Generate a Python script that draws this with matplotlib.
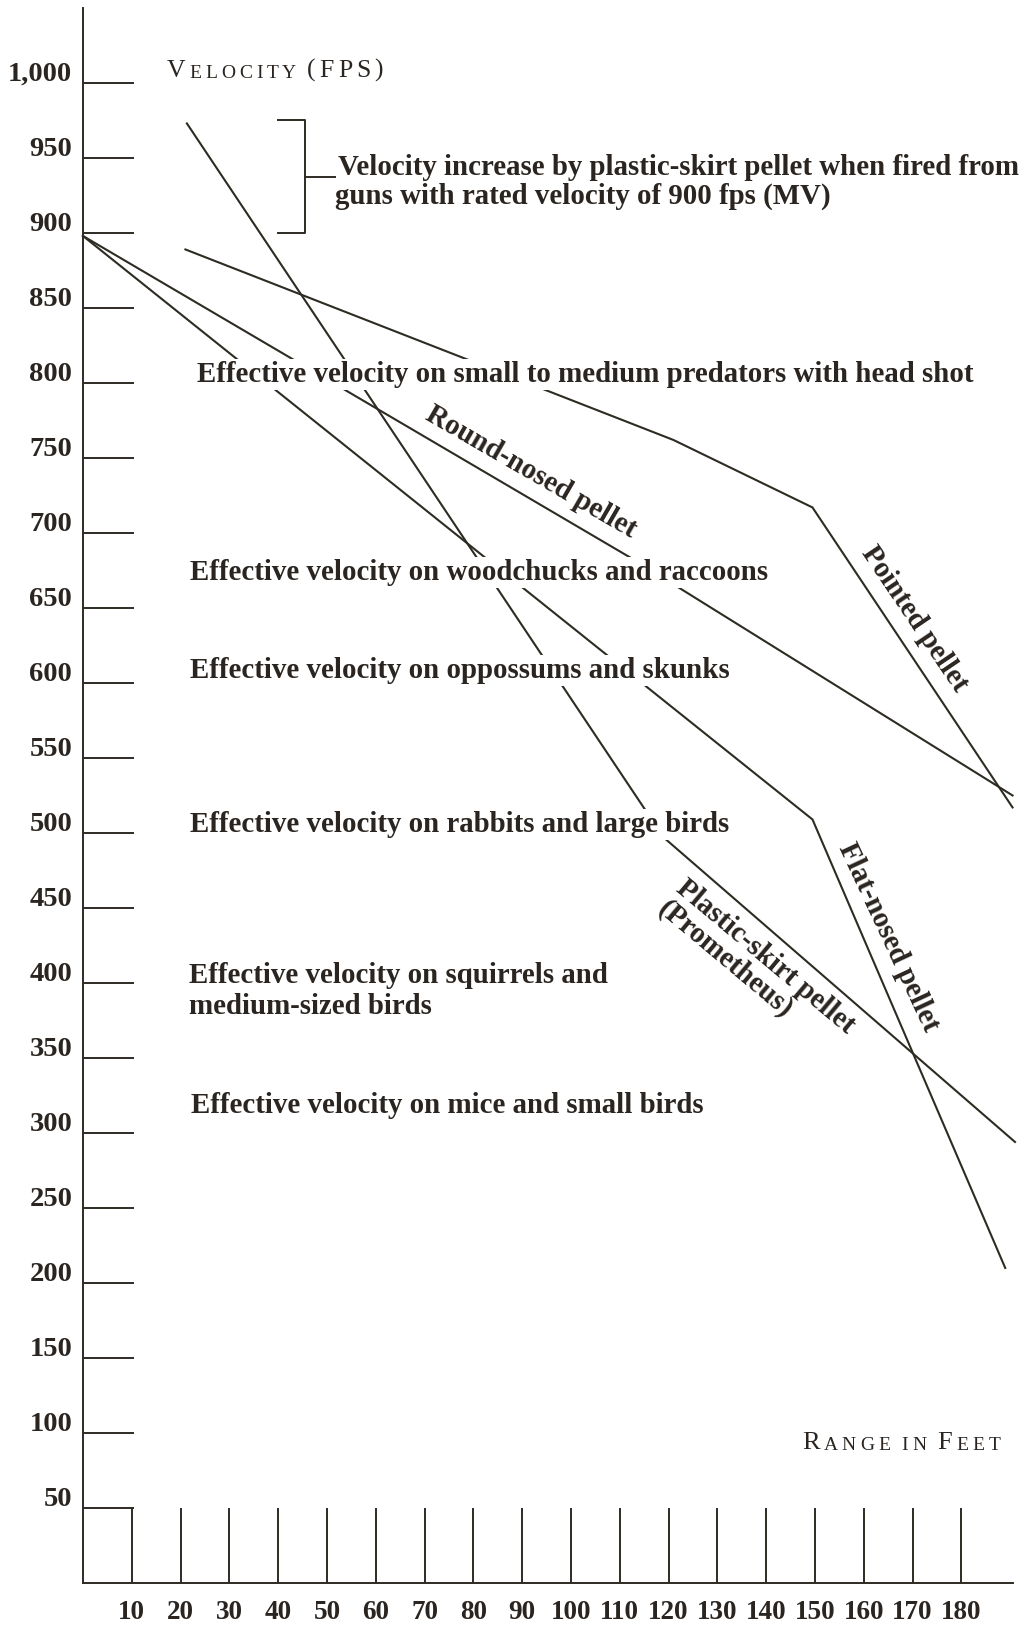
import matplotlib.pyplot as plt

plt.rcParams['font.family'] = ['Liberation Serif', 'DejaVu Serif']

INK = '#2a2520'
LINE = '#2d2b22'

# range (feet) and velocity (fps)
pointed_ft = [21, 121, 149.5, 190.5]
pointed_fps = [889, 762, 717, 517]
round_ft = [0, 113, 190.5]
round_fps = [898, 682, 525]
flat_ft = [0, 149.5, 189]
flat_fps = [898, 509, 210]
plastic_ft = [21.3, 119, 191]
plastic_fps = [973, 497, 294]

muzzle_velocity = 900
skirt_velocity = 975

velocity_ticks = list(range(50, 1001, 50))
velocity_labels = ['1,000' if v == 1000 else str(v) for v in velocity_ticks]
range_ticks = list(range(10, 181, 10))
range_labels = [str(r) for r in range_ticks]

# effective-velocity notes: (text lines, ft of left edge, fps of each baseline)
notes = [
    (['Effective velocity on small to medium predators with head shot'], 23.4, [800.7]),
    (['Effective velocity on woodchucks and raccoons'], 22.0, [668.7]),
    (['Effective velocity on oppossums and skunks'], 22.0, [603]),
    (['Effective velocity on rabbits and large birds'], 22.0, [500.7]),
    (['Effective velocity on squirrels and', 'medium-sized birds'], 21.8, [400, 379]),
    (['Effective velocity on mice and small birds'], 22.2, [313]),
]

FS = 20.8

fig = plt.figure(figsize=(10.35, 16.26), dpi=100)
ax = fig.add_axes([0, 0, 1, 1])
ax.set_xlim(-17.0, 195.1)
ax.set_ylim(-28.7, 1055.3)
ax.axis('off')

# hand-drawn axes and ticks
ax.plot([0, 0], [0, 1050], color=LINE, lw=1.4)
ax.plot([0, 190.5], [0, 0], color=LINE, lw=1.4)
ax.hlines(velocity_ticks, 0, 10.5, color=LINE, lw=1.4)
ax.vlines(range_ticks, 0, 50, color=LINE, lw=1.4)

for v, lab in zip(velocity_ticks, velocity_labels):
    ax.text(-2.2, v + 1.5, lab, ha='right', va='baseline', fontsize=20.5,
            fontweight='bold', color=INK)
for r, lab in zip(range_ticks, range_labels):
    ax.text(r, -24, lab, ha='center', va='baseline', fontsize=19.5,
            fontweight='bold', color=INK)

# pellet curves
for ft, fps in [(pointed_ft, pointed_fps), (round_ft, round_fps),
                (flat_ft, flat_fps), (plastic_ft, plastic_fps)]:
    ax.plot(ft, fps, color=LINE, lw=1.5, solid_joinstyle='miter', zorder=2)

# notes mask the curves where they cross
for lines, x, ys in notes:
    for txt, y in zip(lines, ys):
        ax.text(x, y, txt, ha='left', va='baseline', fontsize=FS,
                fontweight='bold', color=INK, zorder=3,
                bbox=dict(facecolor='white', edgecolor='none', pad=1.5))

# bracket for the plastic-skirt gain
ax.plot([40, 45.5, 45.5, 40], [skirt_velocity, skirt_velocity, muzzle_velocity, muzzle_velocity],
        color=LINE, lw=1.4)
ax.plot([45.5, 51.6], [937, 937], color=LINE, lw=1.4)
ax.text(52.3, 938.7, 'Velocity increase by plastic-skirt pellet when fired from',
        ha='left', va='baseline', fontsize=FS, fontweight='bold', color=INK)
ax.text(51.7, 919.3, 'guns with rated velocity of 900 fps (MV)',
        ha='left', va='baseline', fontsize=FS, fontweight='bold', color=INK)

# curve names
ax.text(91.8, 740.7, 'Round-nosed pellet', rotation=-30, rotation_mode='anchor',
        ha='center', va='center', fontsize=FS, fontweight='bold', color=INK)
ax.text(170.5, 643, 'Pointed pellet', rotation=-56, rotation_mode='anchor',
        ha='center', va='center', fontsize=FS, fontweight='bold', color=INK)
ax.text(165, 430.7, 'Flat-nosed pellet', rotation=-65, rotation_mode='anchor',
        ha='center', va='center', fontsize=FS, fontweight='bold', color=INK)
ax.text(138, 410.5, 'Plastic-skirt pellet\n(Prometheus)', rotation=-40,
        rotation_mode='anchor', ha='center', va='center', multialignment='left',
        linespacing=1.0, fontsize=FS, fontweight='bold', color=INK)


def small_caps(x, y, parts, big, small, track=2.2, space=5.0):
    # lay out letter by letter so the caps get a bit of tracking
    prev = None
    gap = 0.0
    for txt, is_big in parts:
        size = big if is_big else small
        for ch in txt:
            if ch == ' ':
                gap += space
                continue
            if prev is None:
                prev = ax.text(x, y, ch, ha='left', va='baseline', fontsize=size, color=INK)
            else:
                prev = ax.annotate(ch, xy=(1, 0), xycoords=prev, xytext=(track + gap, 0),
                                   textcoords='offset points', ha='left', va='bottom',
                                   fontsize=size, color=INK)
            gap = 0.0


small_caps(17.2, 1004, [('V', True), ('ELOCITY', False), (' (FPS)', True)],
           big=18.5, small=14, track=2.8)
small_caps(147.3, 89.3, [('R', True), ('ANGE IN ', False), ('F', True), ('EET', False)],
           big=19, small=14, track=3.0)

fig.savefig('out.png', dpi=100, facecolor='white')
